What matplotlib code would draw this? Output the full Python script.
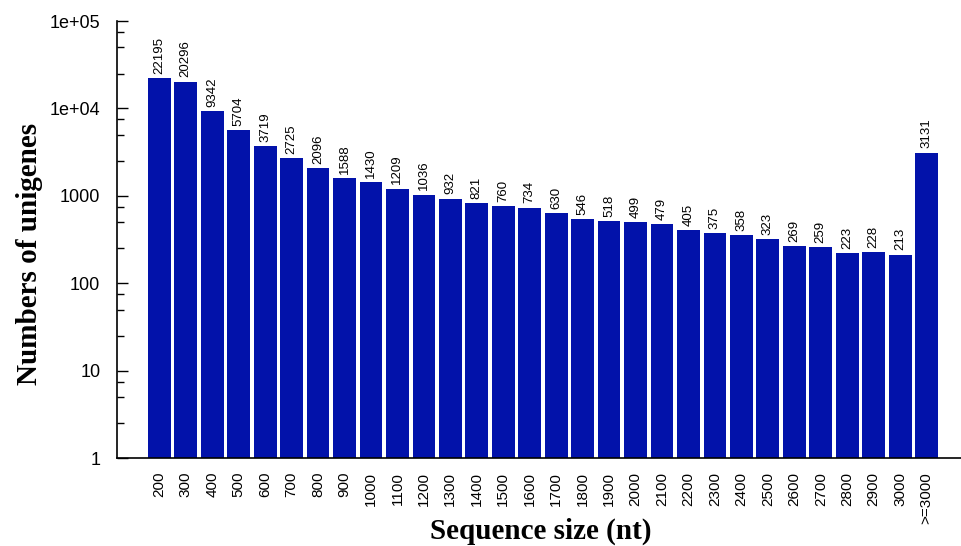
import matplotlib.pyplot as plt
import numpy as np
from matplotlib.ticker import FixedLocator, FixedFormatter

# Unigene length distribution
sizes = ['200', '300', '400', '500', '600', '700', '800', '900', '1000', '1100',
         '1200', '1300', '1400', '1500', '1600', '1700', '1800', '1900', '2000', '2100',
         '2200', '2300', '2400', '2500', '2600', '2700', '2800', '2900', '3000', '>=3000']
counts = [22195, 20296, 9342, 5704, 3719, 2725, 2096, 1588, 1430, 1209,
          1036, 932, 821, 760, 734, 630, 546, 518, 499, 479,
          405, 375, 358, 323, 269, 259, 223, 228, 213, 3131]

y_ticks = [1, 10, 100, 1000, 1e4, 1e5]
y_tick_labels = ['1', '10', '100', '1000', '1e+04', '1e+05']

bar_color = '#0212aa'
sans = ['Liberation Sans', 'DejaVu Sans']
serif = ['Liberation Serif', 'DejaVu Serif']

fig = plt.figure(figsize=(9.61, 5.46), dpi=100)
ax = fig.add_axes([0.1217, 0.161, 0.8783, 0.8005])

x = np.arange(len(sizes))
bars = ax.bar(x, counts, width=0.86, color=bar_color, log=True)

ax.set_yscale('log')
ax.set_ylim(1, 1e5)
ax.set_xlim(-1.6, len(sizes) - 1 + 1.3)

# decade ticks plus minor ticks at 2.5, 5 and 7.5 in every decade
ax.yaxis.set_major_locator(FixedLocator(y_ticks))
ax.yaxis.set_major_formatter(FixedFormatter(y_tick_labels))
minor = [d * m for d in [1, 10, 100, 1000, 1e4] for m in (2.5, 5, 7.5)]
ax.yaxis.set_minor_locator(FixedLocator(minor))
ax.tick_params(axis='y', which='major', direction='in', length=8, width=1,
               labelsize=13, pad=12)
ax.tick_params(axis='y', which='minor', direction='in', length=5, width=1)
for lbl in ax.get_yticklabels():
    lbl.set_family(sans)

ax.set_xticks(x)
ax.set_xticklabels(sizes, rotation=90, fontsize=11, family=sans)
ax.tick_params(axis='x', length=0, pad=10)

for s in ['top', 'right']:
    ax.spines[s].set_visible(False)
for s in ['left', 'bottom']:
    ax.spines[s].set_linewidth(1.2)

# value labels above each bar
for rect, v in zip(bars, counts):
    ax.annotate(f'{v}', xy=(rect.get_x() + rect.get_width() / 2, v),
                xytext=(0, 3), textcoords='offset points',
                ha='center', va='bottom', rotation=90, fontsize=9.5, family=sans)

fig.text(0.031, 0.535, 'Numbers of unigenes', rotation=90, ha='center', va='center',
         fontsize=21, fontweight='bold', family=serif)
fig.text(0.563, 0.026, 'Sequence size (nt)', ha='center', va='center',
         fontsize=21, fontweight='bold', family=serif)

fig.savefig('out.png', dpi=100)
